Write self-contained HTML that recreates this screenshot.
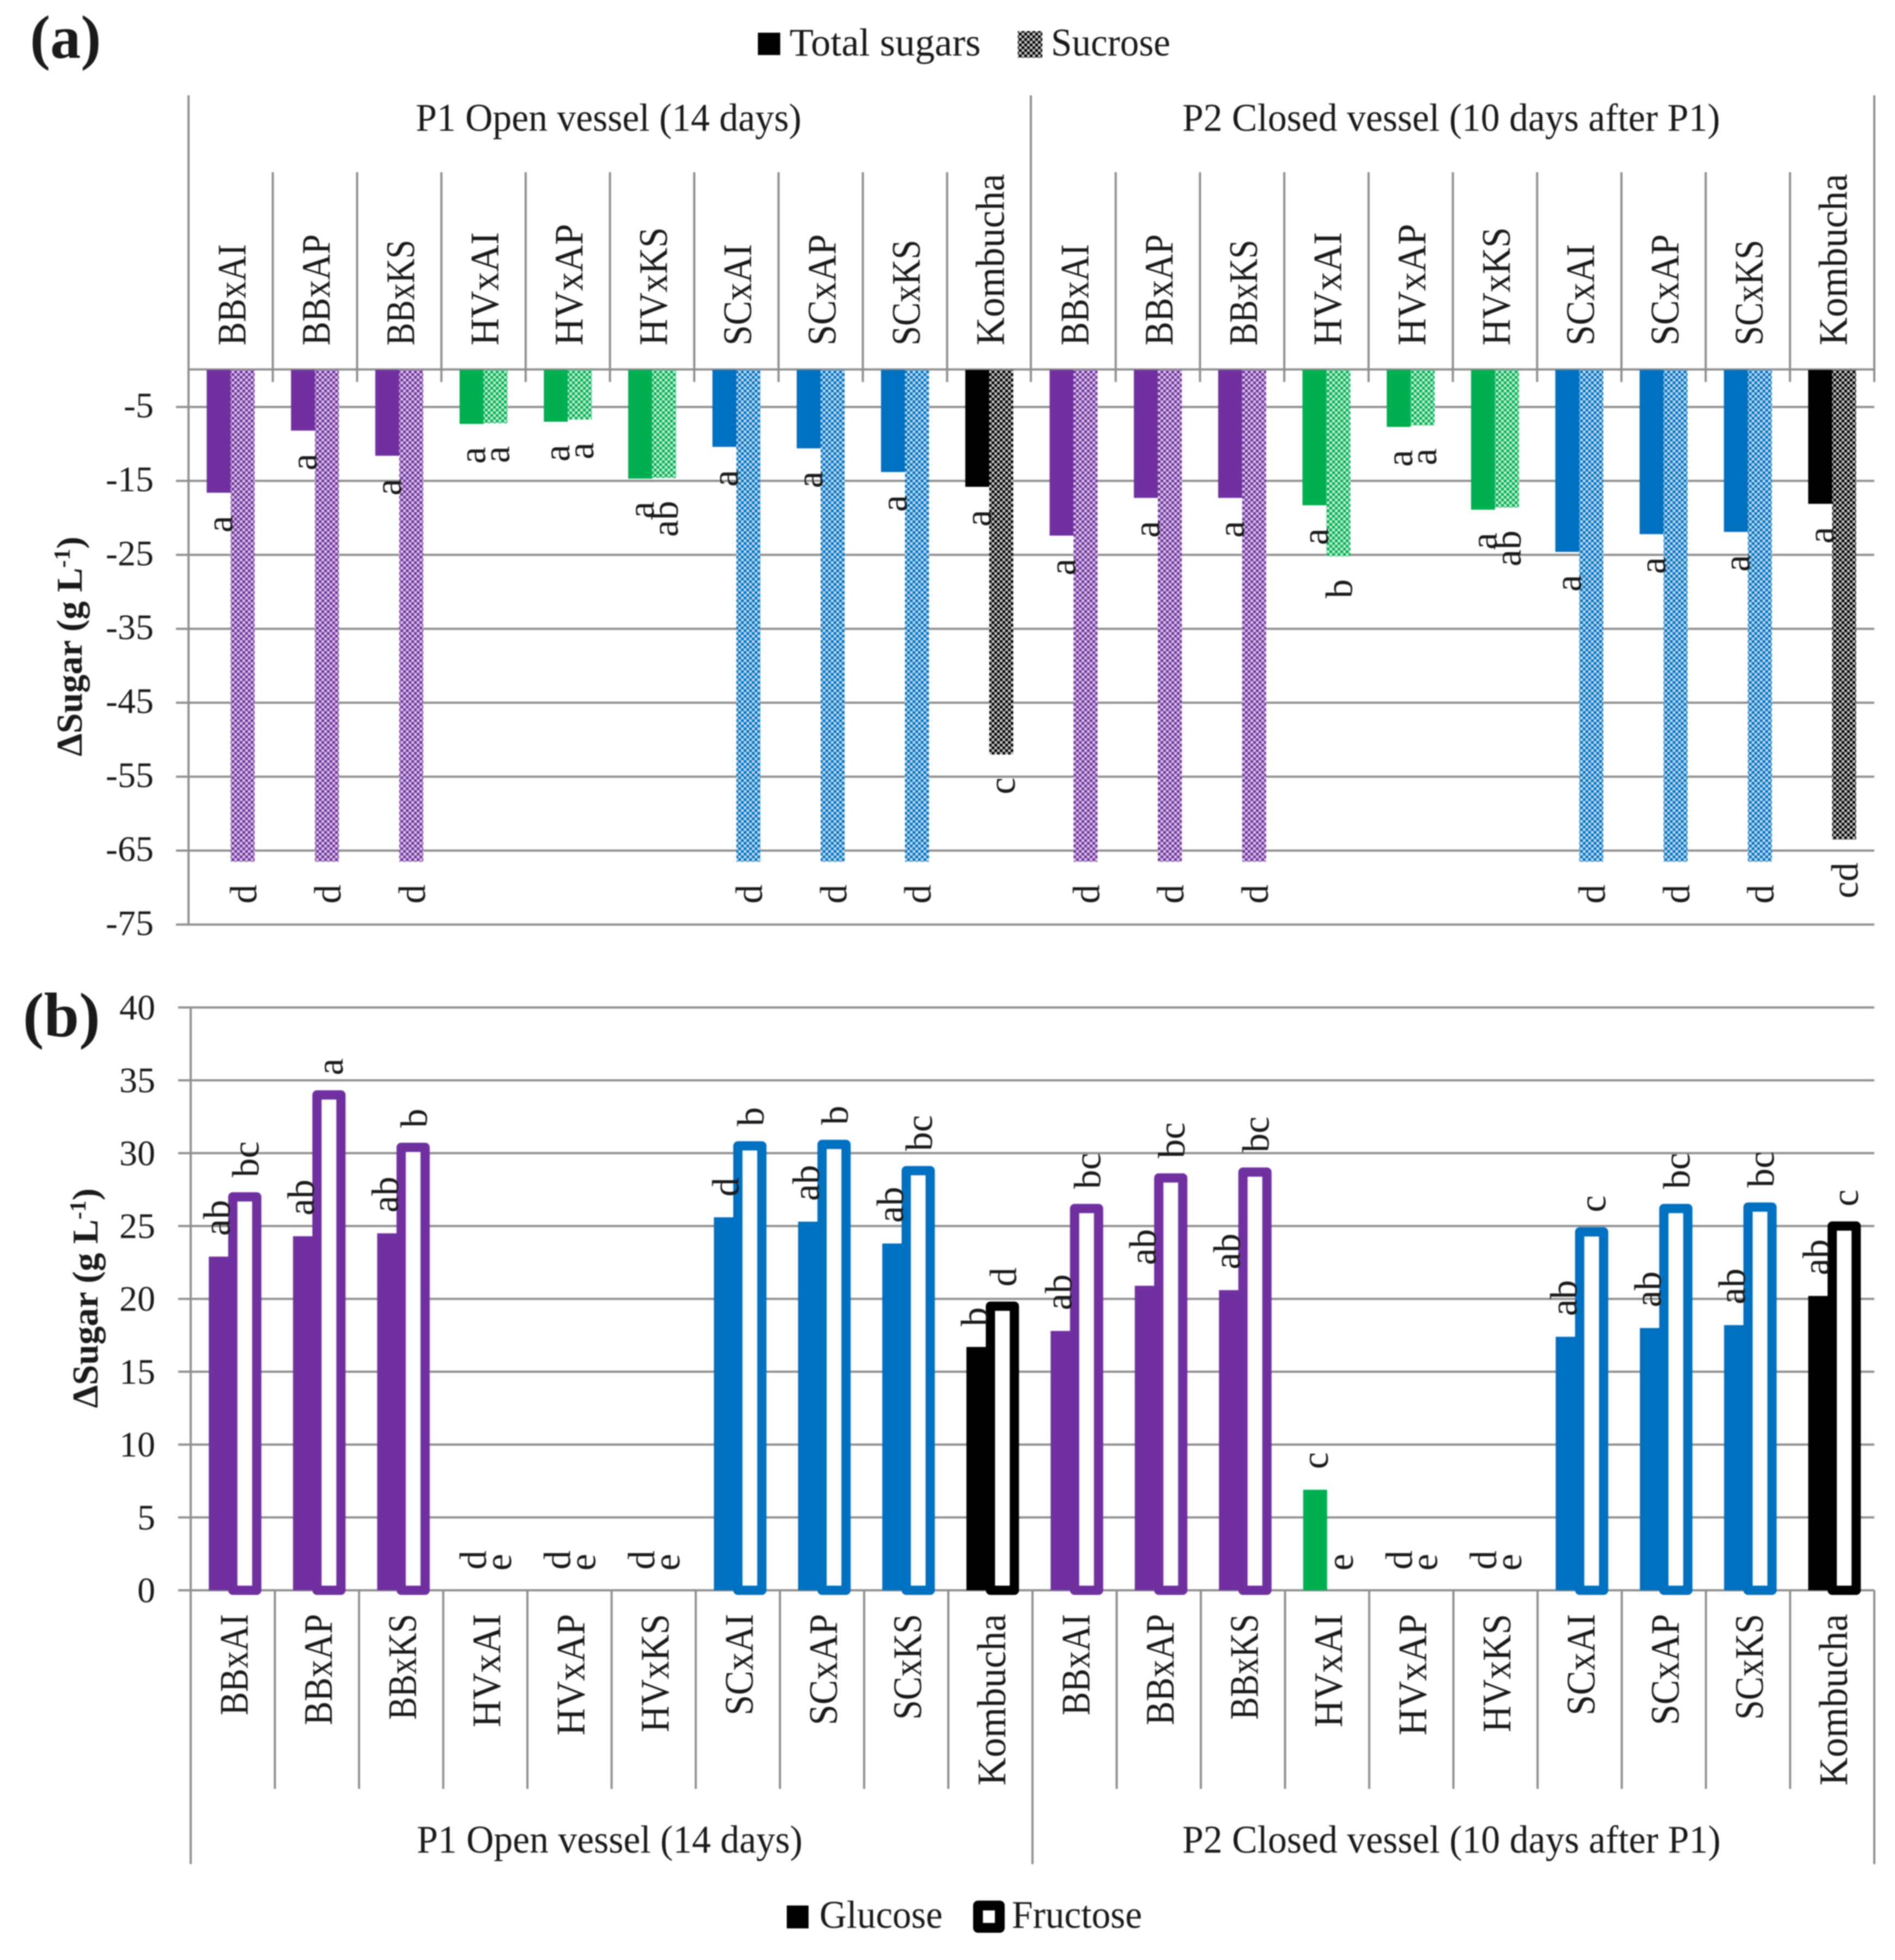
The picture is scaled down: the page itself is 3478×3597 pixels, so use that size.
<!DOCTYPE html>
<html lang="en">
<head>
<meta charset="utf-8">
<title>Change in sugar concentration</title>
<style>
html,body{margin:0;padding:0;background:#fff;}
svg{display:block;filter:blur(1px);}
text{font-family:"Liberation Serif",serif;fill:#1a1a1a;}
</style>
</head>
<body>
<svg id="chart" xmlns="http://www.w3.org/2000/svg" width="3478" height="3597" viewBox="0 0 3478 3597"></svg>
<script>
// ---------- data ----------
const categories = ["BBxAI","BBxAP","BBxKS","HVxAI","HVxAP","HVxKS","SCxAI","SCxAP","SCxKS","Kombucha","BBxAI","BBxAP","BBxKS","HVxAI","HVxAP","HVxKS","SCxAI","SCxAP","SCxKS","Kombucha"];
const periods = ["P1 Open vessel (14 days)","P2 Closed vessel (10 days after P1)"];
const colorGroups = ["purple","purple","purple","green","green","green","blue","blue","blue","black","purple","purple","purple","green","green","green","blue","blue","blue","black"];

const totalSugars = [-16.6,-8.2,-11.6,-7.3,-7.0,-14.7,-10.4,-10.6,-13.8,-15.8,-22.4,-17.3,-17.3,-18.3,-7.7,-18.9,-24.6,-22.2,-21.9,-18.1];
const sucrose = [-66.5,-66.5,-66.5,-7.2,-6.7,-14.6,-66.5,-66.5,-66.5,-52,-66.5,-66.5,-66.5,-25.2,-7.5,-18.6,-66.5,-66.5,-66.5,-63.5];
const totalLetters = ["a","a","a","a","a","a","a","a","a","a","a","a","a","a","a","a","a","a","a","a"];
const sucroseLetters = ["d","d","d","a","a","ab","d","d","d","c","d","d","d","b","a","ab","d","d","d","cd"];

const glucose = [22.9,24.3,24.5,0,0,0,25.6,25.3,23.8,16.7,17.8,20.9,20.6,6.9,0,0,17.4,18.0,18.2,20.2];
const fructose = [27.0,34.0,30.4,0,0,0,30.5,30.6,28.8,19.5,26.2,28.3,28.7,0,0,0,24.6,26.2,26.3,25.0];
const glucoseLetters = ["ab","ab","ab","d","d","d","d","ab","ab","b","ab","ab","ab","c","d","d","ab","ab","ab","ab"];
const fructoseLetters = ["bc","a","b","e","e","e","b","b","bc","d","bc","bc","bc","e","e","e","c","bc","bc","c"];

const ticksA = [-5,-15,-25,-35,-45,-55,-65,-75];
const ticksB = [0,5,10,15,20,25,30,35,40];

// ---------- helpers ----------
const NS = "http://www.w3.org/2000/svg";
const root = document.getElementById("chart");
const palette = {purple:"#7030a0",green:"#00b050",blue:"#0070c0",black:"#000000"};
const lightPalette = {purple:"#d9c8e6",green:"#c4eed6",blue:"#c2dcf2",black:"#c8c8c8"};
const labelLength = {BBxAI:186,BBxAP:204,BBxKS:194,HVxAI:208,HVxAP:223,HVxKS:217,SCxAI:186,SCxAP:204,SCxKS:194,Kombucha:315};
const GRID = "#8f8f8f";

function make(tag, attrs, parent){
  const el = document.createElementNS(NS, tag);
  for(const k in attrs) el.setAttribute(k, attrs[k]);
  (parent || root).appendChild(el);
  return el;
}
function line(x1,y1,x2,y2,name,w){
  const el = make("line",{x1,y1,x2,y2,stroke:GRID,"stroke-width":w||4});
  
  
  return el;
}
function label(str,x,y,size,anchor,name,extra){
  const el = make("text",Object.assign({x,y,"font-size":size,"text-anchor":anchor||"start"},extra||{}));
  el.textContent = str;
  
  
  return el;
}
function vlabel(str,x,y,size,anchor,name,extra){
  const el = make("text",Object.assign({x:0,y:0,"font-size":size,"text-anchor":anchor,transform:"translate("+x+" "+y+") rotate(-90)"},extra||{}));
  el.textContent = str;
  
  
  return el;
}

// checker patterns
const defs = make("defs",{});
function addPattern(id,c,l){
  const p = make("pattern",{id:id,width:10,height:10,patternUnits:"userSpaceOnUse"},defs);
  make("rect",{width:10,height:10,fill:l},p);
  make("rect",{width:5,height:5,fill:c},p);
  make("rect",{x:5,y:5,width:5,height:5,fill:c},p);
}
for(const k in palette) addPattern("chk-"+k,palette[k],lightPalette[k]);

// ---------- chart (a) axes ----------
const aLeft=346, aRight=3440, aTop=175, aBase=679;
const aUnit=13.57;
const yA = v => aBase - v*aUnit;
const aStep=(aRight-aLeft)/categories.length;
const xA = i => aLeft + aStep*(i+0.5);

// ---------- chart (b) axes ----------
const bLeft=350, bRight=3440, bBase=2918.5;
const bUnit=26.74;
const yB = v => bBase - v*bUnit;
const bStep=(bRight-bLeft)/categories.length;
const xB = i => bLeft + bStep*(i+0.5);
const barW=44;

// panel letters
label("(a)",55,106,112,"start","panel-a-label",{"font-weight":"bold",fill:"#000"});
label("(b)",42,1902,116,"start","panel-b-label",{"font-weight":"bold",fill:"#000"});

// legend a
let el;
el = make("rect",{x:1391,y:60,width:41,height:41,fill:"#000"});


label("Total sugars",1449,102,72,"start","legend-entry-total-sugars",{textLength:351,lengthAdjust:"spacingAndGlyphs"});
el = make("rect",{x:1868,y:57,width:45,height:49,fill:"url(#chk-black)"});


label("Sucrose",1929,102,72,"start","legend-entry-sucrose",{textLength:219,lengthAdjust:"spacingAndGlyphs"});

// chart a gridlines
ticksA.forEach(function(t){
  line(323,yA(t),aRight,yA(t),"gridline-a");
  label(String(t),282,yA(t)+19,66,"end","y-tick-a");
});
line(aLeft,aBase-1,aRight,aBase-1,"zero-axis-a");
line(aLeft,aTop,aLeft,yA(-75)+2,"y-axis-a");
for(let i=1;i<categories.length;i++){
  const x=aLeft+aStep*i;
  if(i===10) line(x-1,aTop,x-1,701,"period-divider-a");
  else line(x,316,x,701,"category-divider-a");
}
line(aRight,aTop,aRight,701,"right-border-a");
label(periods[0],763,240,72,"start","period-label-a-p1",{textLength:708,lengthAdjust:"spacingAndGlyphs"});
label(periods[1],2170,240,72,"start","period-label-a-p2",{textLength:987,lengthAdjust:"spacingAndGlyphs"});

// chart a category labels
categories.forEach(function(c,i){
  vlabel(c,xA(i)+27,634,74,"start","category-label-a",{textLength:labelLength[c],lengthAdjust:"spacingAndGlyphs"});
});

// chart a bars
categories.forEach(function(c,i){
  const g=colorGroups[i];
  const x=xA(i);
  const t=make("rect",{x:x-barW,y:yA(0),width:barW,height:yA(totalSugars[i])-yA(0),fill:palette[g]});
  
  
  const s=make("rect",{x:x,y:yA(0),width:barW,height:yA(sucrose[i])-yA(0),fill:"url(#chk-"+g+")"});
  
  
});
categories.forEach(function(c,i){
  const x=xA(i);
  vlabel(totalLetters[i],x-barW/2+25,yA(totalSugars[i])+42,70,"end","significance-total-sugars");
  vlabel(sucroseLetters[i],x+barW/2+25,yA(sucrose[i])+42,70,"end","significance-sucrose");
});

// chart y titles
function yTitle(x,y,name){
  const t=make("text",{x:0,y:0,"font-size":67,"font-weight":"bold",transform:"translate("+x+" "+y+") rotate(-90)",fill:"#000"});
  
  
  const a=make("tspan",{},t); a.textContent="ΔSugar (g L";
  const b=make("tspan",{dy:-22,"font-size":42},t); b.textContent="-1";
  const c=make("tspan",{dy:22},t); c.textContent=")";
  return t;
}
yTitle(150,1388,"y-axis-title-a");

// chart b gridlines
ticksB.forEach(function(t){
  line(327,yB(t),bRight,yB(t),t===0?"zero-axis-b":"gridline-b");
  label(String(t),285,yB(t)+22,66,"end","y-tick-b");
});
line(bLeft,yB(40),bLeft,3421,"y-axis-b");
for(let i=1;i<categories.length;i++){
  const x=bLeft+bStep*i;
  if(i===10) line(x,bBase,x,3421,"period-divider-b");
  else line(x,bBase,x,3283,"category-divider-b");
}
line(bRight,bBase,bRight,3421,"right-border-b");
label(periods[0],765,3400,72,"start","period-label-b-p1",{textLength:708,lengthAdjust:"spacingAndGlyphs"});
label(periods[1],2170,3400,72,"start","period-label-b-p2",{textLength:988,lengthAdjust:"spacingAndGlyphs"});

categories.forEach(function(c,i){
  vlabel(c,xB(i)+27,2962,74,"end","category-label-b",{textLength:labelLength[c],lengthAdjust:"spacingAndGlyphs"});
});

// chart b bars
categories.forEach(function(c,i){
  const g=colorGroups[i];
  const x=xB(i);
  if(glucose[i]>0){
    const r=make("rect",{x:x-barW,y:yB(glucose[i]),width:barW,height:bBase-yB(glucose[i]),fill:palette[g]});
    
    
  }
  if(fructose[i]>0){
    const r=make("rect",{x:x,y:yB(fructose[i]),width:barW,height:bBase-yB(fructose[i]),fill:"#fff",stroke:palette[g],"stroke-width":17,"stroke-linejoin":"round"});
    
    
  }
});
categories.forEach(function(c,i){
  const x=xB(i);
  const nudge = (glucoseLetters[i]==="d"||glucoseLetters[i]==="c") ? 7 : 0;
  vlabel(glucoseLetters[i],x-barW/2+16+nudge,yB(glucose[i])-38,70,"start","significance-glucose");
  vlabel(fructoseLetters[i],x+barW/2+25,yB(fructose[i])-36,70,"start","significance-fructose");
});
yTitle(179,2584,"y-axis-title-b");

// legend b
el = make("rect",{x:1444,y:3497,width:40,height:42,fill:"#000"});


label("Glucose",1504,3538,72,"start","legend-entry-glucose",{textLength:226,lengthAdjust:"spacingAndGlyphs"});
el = make("rect",{x:1795,y:3497,width:40,height:41,fill:"#fff",stroke:"#000","stroke-width":18,"stroke-linejoin":"round"});


label("Fructose",1857,3538,72,"start","legend-entry-fructose",{textLength:239,lengthAdjust:"spacingAndGlyphs"});
</script>
</body>
</html>
